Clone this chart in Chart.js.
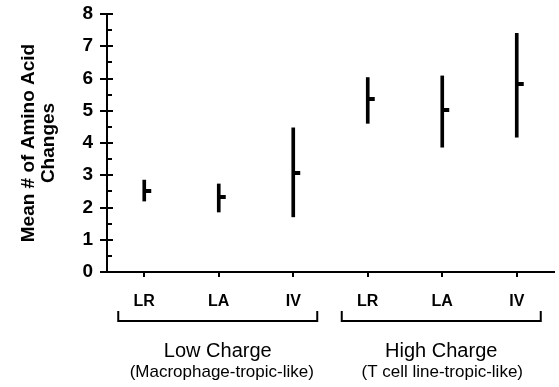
<!DOCTYPE html>
<html>
<head>
<meta charset="utf-8">
<script src="https://cdn.jsdelivr.net/npm/chart.js@4/dist/chart.umd.min.js"></script>
<style>
  html, body { margin: 0; padding: 0; background: #fff; }
  canvas { display: block; }
</style>
</head>
<body>
<canvas id="chart" width="559" height="387"></canvas>
<script>
// data
const categories = ['LR', 'LA', 'IV', 'LR', 'LA', 'IV'];
const means = [2.52, 2.33, 3.08, 5.35, 5.02, 5.82];
const lows = [2.20, 1.86, 1.71, 4.61, 3.87, 4.18];
const highs = [2.85, 2.73, 4.47, 6.03, 6.08, 7.40];
const groupNames = ['Low Charge', 'High Charge'];
const groupNotes = ['(Macrophage-tropic-like)', '(T cell line-tropic-like)'];
const groupSpans = [[0, 2], [3, 5]];
const yTicks = [0, 1, 2, 3, 4, 5, 6, 7, 8];

const FONT = "'Liberation Sans', Arial, Helvetica, sans-serif";

// little mark for the mean, sticking out to the right of the range bar
const meanMark = document.createElement('canvas');
meanMark.width = 16;
meanMark.height = 4;
const mctx = meanMark.getContext('2d');
mctx.fillStyle = '#000';
mctx.fillRect(8, 0, 7, 4);

// y axis tick marks: long ones crossing at integers, short inner ones at halves
const yTickMarks = {
  id: 'yTickMarks',
  afterDraw(chart) {
    const y = chart.scales.y;
    const ax = chart.chartArea.left;
    const ctx = chart.ctx;
    ctx.save();
    ctx.strokeStyle = '#000';
    ctx.lineWidth = 2;
    y.ticks.forEach(t => {
      const py = Math.round(y.getPixelForValue(t.value));
      ctx.beginPath();
      if (Number.isInteger(t.value)) {
        ctx.moveTo(ax - 7, py);
        ctx.lineTo(ax + 6, py);
      } else {
        ctx.moveTo(ax, py);
        ctx.lineTo(ax + 5, py);
      }
      ctx.stroke();
    });
    ctx.restore();
  }
};

// brackets and group captions under the x axis
const groupBrackets = {
  id: 'groupBrackets',
  afterDraw(chart) {
    const x = chart.scales.x;
    const ctx = chart.ctx;
    ctx.save();
    ctx.strokeStyle = '#000';
    ctx.fillStyle = '#000';
    ctx.lineWidth = 2;
    groupSpans.forEach((span, i) => {
      const x0 = x.getPixelForValue(span[0]) - 26;
      const x1 = x.getPixelForValue(span[1]) + 24;
      ctx.beginPath();
      ctx.moveTo(x0, 311);
      ctx.lineTo(x0, 321);
      ctx.lineTo(x1, 321);
      ctx.lineTo(x1, 311);
      ctx.stroke();
      const cx = (x0 + x1) / 2;
      ctx.textAlign = 'center';
      ctx.textBaseline = 'alphabetic';
      ctx.font = '20px ' + FONT;
      ctx.fillText(groupNames[i], cx, 357);
      ctx.font = '17px ' + FONT;
      ctx.fillText(groupNotes[i], cx + (i === 0 ? 4 : 1), 377);
    });
    ctx.restore();
  }
};

new Chart(document.getElementById('chart'), {
  type: 'bar',
  data: {
    labels: categories,
    datasets: [
      {
        type: 'bar',
        data: lows.map((lo, i) => [lo, highs[i]]),
        backgroundColor: '#000',
        borderWidth: 0,
        barThickness: 3,
        grouped: false,
        order: 2
      },
      {
        type: 'line',
        data: means,
        showLine: false,
        pointStyle: meanMark,
        pointRadius: 3,
        order: 1
      }
    ]
  },
  options: {
    responsive: false,
    animation: false,
    layout: { padding: { left: 0, right: 0, top: 14, bottom: 0 } },
    plugins: {
      legend: { display: false },
      tooltip: { enabled: false }
    },
    scales: {
      x: {
        offset: true,
        afterFit: s => { s.height = 115; },
        grid: {
          display: true,
          drawOnChartArea: false,
          drawTicks: true,
          tickLength: 5,
          offset: false,
          color: '#000',
          lineWidth: 2
        },
        border: { display: true, color: '#000', width: 2 },
        ticks: {
          color: '#000',
          padding: 15,
          maxRotation: 0,
          autoSkip: false,
          font: { family: FONT, size: 16, weight: 'bold' }
        }
      },
      y: {
        min: 0,
        max: 8,
        afterFit: s => {
          s.width = 107;
          s.paddingTop = 0;
          s.paddingBottom = 0;
        },
        afterBuildTicks: s => {
          // integers plus the half steps for minor marks
          const list = [];
          yTicks.forEach((v, i) => {
            list.push({ value: v });
            if (i < yTicks.length - 1) list.push({ value: v + 0.5 });
          });
          s.ticks = list;
        },
        grid: { display: false, drawTicks: false },
        border: { display: true, color: '#000', width: 2 },
        ticks: {
          color: '#000',
          padding: 14,
          autoSkip: false,
          font: { family: FONT, size: 19, weight: 'bold' },
          callback: v => Number.isInteger(v) ? String(v) : ''
        },
        title: {
          display: true,
          text: ['Mean # of Amino Acid', 'Changes'],
          color: '#000',
          padding: { top: 19, bottom: 0 },
          font: { family: FONT, size: 19, weight: 'bold', lineHeight: 1.05 }
        }
      }
    }
  },
  plugins: [yTickMarks, groupBrackets]
});
</script>
</body>
</html>
